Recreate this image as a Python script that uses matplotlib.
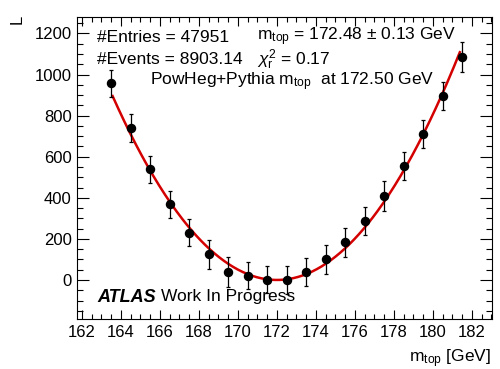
import numpy as np
import matplotlib
matplotlib.use('Agg')
import matplotlib.pyplot as plt
from matplotlib.ticker import MultipleLocator

plt.rcParams['font.family'] = ['Liberation Sans', 'DejaVu Sans']
plt.rcParams['mathtext.fontset'] = 'custom'
plt.rcParams['mathtext.rm'] = 'Liberation Sans'
plt.rcParams['mathtext.it'] = 'Liberation Sans:italic'

# puntos del chi2
m_top = [163.5, 164.5, 165.5, 166.5, 167.5, 168.5, 169.5, 170.5, 171.5, 172.5,
         173.5, 174.5, 175.5, 176.5, 177.5, 178.5, 179.5, 180.5, 181.5]
chi2 = [957, 738, 538, 368, 230, 125, 37, 21, 2, 0,
        41, 100, 183, 287, 410, 555, 710, 895, 1087]
err = [66, 68, 65, 67, 67, 70, 73, 65, 65, 66,
       68, 70, 69, 69, 73, 69, 70, 67, 73]

# parametros del ajuste parabolico
fit_min = 172.0
fit_a = 12.6
fit_lo, fit_hi = 163.57, 181.38

fig = plt.figure(figsize=(5.0, 3.69), dpi=100)
ax = fig.add_axes([0.1534, 0.1355, 0.8306, 0.8184])

xf = np.linspace(fit_lo, fit_hi, 300)
ax.plot(xf, fit_a * (xf - fit_min) ** 2, color='#d40000', lw=1.8, zorder=2)
ax.errorbar(m_top, chi2, yerr=err, fmt='o', color='black', ms=5.8,
            elinewidth=0.9, capsize=1.5, capthick=0.9, zorder=3)

ax.set_xlim(161.73, 183.03)
ax.set_ylim(-190, 1280)
ax.xaxis.set_major_locator(MultipleLocator(2))
ax.xaxis.set_minor_locator(MultipleLocator(0.5))
ax.yaxis.set_major_locator(MultipleLocator(200))
ax.yaxis.set_minor_locator(MultipleLocator(50))
ax.tick_params(axis='both', which='both', direction='in', top=True, right=True,
               width=0.8, labelsize=12)
ax.tick_params(axis='x', which='major', length=6.5, pad=4)
ax.tick_params(axis='x', which='minor', length=3.4)
ax.tick_params(axis='y', which='major', length=8.6, pad=3.5)
ax.tick_params(axis='y', which='minor', length=4.3)
for s in ax.spines.values():
    s.set_linewidth(0.8)

def px(x, y):
    # pixeles desde arriba a la izquierda -> fraccion de figura
    return (x / 500.0, 1 - y / 369.0)

fs = 12.5
# textos
fig.text(*px(97, 37), '#Entries = 47951', fontsize=fs, va='center')
fig.text(*px(97, 60), '#Events = 8903.14', fontsize=fs, va='center')
fig.text(*px(257, 37), r'm$_{\mathrm{top}}$ = 172.48 $\pm$ 0.13 GeV', fontsize=fs, va='center')
fig.text(*px(257, 60), r'$\chi^{2}_{\mathrm{r}}$ = 0.17', fontsize=fs, va='center')
fig.text(*px(150, 82), r'PowHeg+Pythia m$_{\mathrm{top}}$  at 172.50 GeV', fontsize=fs, va='center')

fig.text(*px(97, 297), 'ATLAS', fontsize=13, fontweight='bold', fontstyle='italic', va='center')
fig.text(*px(161, 297), 'Work In Progress', fontsize=fs, va='center')
fig.text(*px(491, 359), r'm$_{\mathrm{top}}$ [GeV]', fontsize=fs, ha='right', va='center')
fig.text(*px(17, 19), 'L', fontsize=12, rotation=90, ha='center', va='center')

fig.savefig('out.png', dpi=100)
